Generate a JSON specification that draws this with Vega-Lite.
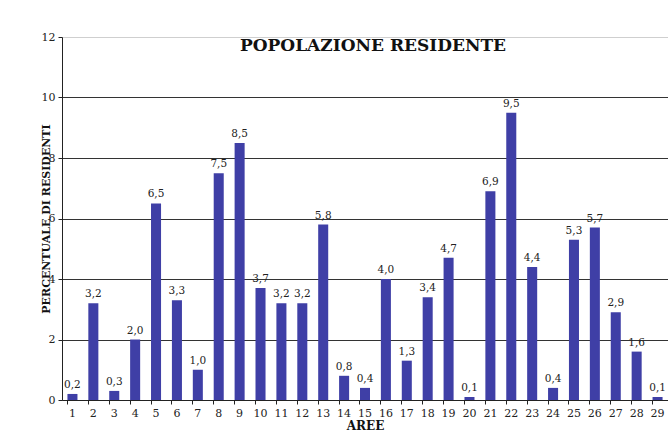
{
  "$schema": "https://vega.github.io/schema/vega-lite/v6.json",
  "autosize": "none",
  "width": 606,
  "height": 363,
  "padding": {"left": 62, "top": 37, "right": 0, "bottom": 44},
  "background": "white",
  "title": {
    "text": "POPOLAZIONE RESIDENTE",
    "font": "DejaVu Serif",
    "fontWeight": "bold",
    "fontSize": 17,
    "color": "#111",
    "anchor": "middle",
    "frame": "group",
    "offset": -24,
    "dx": 8
  },
  "config": {
    "locale": {"number": {"decimal": ",", "thousands": ".", "grouping": [3], "currency": ["", " €"]}},
    "view": {"stroke": null},
    "axis": {
      "labelFont": "DejaVu Serif",
      "labelFontSize": 11,
      "labelColor": "#222",
      "titleFont": "DejaVu Serif",
      "titleFontWeight": "bold",
      "titleFontSize": 12,
      "titleColor": "#111",
      "domainColor": "#222",
      "tickColor": "#222",
      "tickSize": 4
    }
  },
  "data": {
    "values": [
      {"area": "1", "pct": 0.2}, {"area": "2", "pct": 3.2}, {"area": "3", "pct": 0.3},
      {"area": "4", "pct": 2.0}, {"area": "5", "pct": 6.5}, {"area": "6", "pct": 3.3},
      {"area": "7", "pct": 1.0}, {"area": "8", "pct": 7.5}, {"area": "9", "pct": 8.5},
      {"area": "10", "pct": 3.7}, {"area": "11", "pct": 3.2}, {"area": "12", "pct": 3.2},
      {"area": "13", "pct": 5.8}, {"area": "14", "pct": 0.8}, {"area": "15", "pct": 0.4},
      {"area": "16", "pct": 4.0}, {"area": "17", "pct": 1.3}, {"area": "18", "pct": 3.4},
      {"area": "19", "pct": 4.7}, {"area": "20", "pct": 0.1}, {"area": "21", "pct": 6.9},
      {"area": "22", "pct": 9.5}, {"area": "23", "pct": 4.4}, {"area": "24", "pct": 0.4},
      {"area": "25", "pct": 5.3}, {"area": "26", "pct": 5.7}, {"area": "27", "pct": 2.9},
      {"area": "28", "pct": 1.6}, {"area": "29", "pct": 0.1}
    ]
  },
  "encoding": {
    "x": {
      "field": "area",
      "type": "ordinal",
      "sort": null,
      "scale": {"paddingInner": 0.52, "paddingOuter": 0.26},
      "axis": {
        "title": "AREE",
        "labelAngle": 0,
        "labelPadding": 3,
        "titlePadding": 2,
        "bandPosition": 0,
        "ticks": true
      }
    },
    "y": {
      "field": "pct",
      "type": "quantitative",
      "scale": {"domain": [0, 12], "nice": false},
      "axis": {
        "title": "PERCENTUALE DI RESIDENTI",
        "titleFontSize": 11,
        "values": [0, 2, 4, 6, 8, 10, 12],
        "format": "d",
        "labelPadding": 3,
        "titlePadding": -10,
        "grid": true,
        "gridColor": {"condition": {"test": "datum.value == 12", "value": "#cfcfcf"}, "value": "#333"},
        "gridWidth": 1
      }
    }
  },
  "layer": [
    {"mark": {"type": "bar", "color": "#3f3fa6"}},
    {
      "mark": {"type": "text", "baseline": "bottom", "dy": -4, "font": "DejaVu Serif", "fontSize": 10.5, "color": "#222"},
      "encoding": {"text": {"field": "pct", "type": "quantitative", "format": ".1f"}}
    }
  ]
}
